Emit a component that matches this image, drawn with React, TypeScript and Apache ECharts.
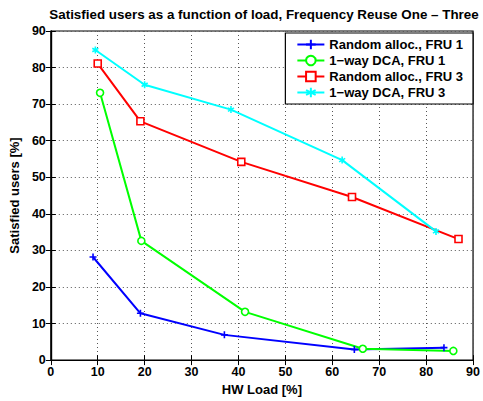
import React, { useEffect, useRef } from "react";
import * as echarts from "echarts";

const xTicks = [0, 10, 20, 30, 40, 50, 60, 70, 80, 90];
const yTicks = [0, 10, 20, 30, 40, 50, 60, 70, 80, 90];

const loadRandom1 = [9.0, 19.1, 37.0, 64.7, 83.8];
const satRandom1 = [28.2, 12.8, 6.9, 2.9, 3.4];
const loadDca1 = [10.5, 19.3, 41.4, 66.5, 85.8];
const satDca1 = [73.1, 32.6, 13.2, 3.1, 2.5];
const loadRandom3 = [10.0, 19.1, 40.6, 64.2, 86.9];
const satRandom3 = [81.1, 65.3, 54.2, 44.6, 33.1];
const loadDca3 = [9.5, 20.0, 38.4, 62.1, 82.1];
const satDca3 = [84.8, 75.3, 68.5, 54.7, 35.2];

const seriesNames = [
  "Random alloc., FRU 1",
  "1\u2212way DCA, FRU 1",
  "Random alloc., FRU 3",
  "1\u2212way DCA, FRU 3",
];

const FONT = "'Liberation Sans', Arial, Helvetica, sans-serif";

const PLUS = "path://M0,-1L0,1M-1,0L1,0";
const STAR = "path://M0,-1L0,1M-0.87,-0.5L0.87,0.5M-0.87,0.5L0.87,-0.5";

export default function App() {
  const ref = useRef<HTMLDivElement>(null);
  useEffect(() => {
    if (!ref.current) return;
    const chart = echarts.init(ref.current, null, { renderer: "svg" });
    const zip = (xs: number[], ys: number[]) => xs.map((x, i) => [x, ys[i]]);
    const mk = (
      name: string,
      xs: number[],
      ys: number[],
      color: string,
      symbol: string,
      size: number,
      fill: string
    ) => ({
      name,
      type: "line",
      data: zip(xs, ys),
      symbol,
      symbolSize: size,
      symbolKeepAspect: true,
      showAllSymbol: true,
      lineStyle: { color, width: 2 },
      itemStyle: { color: fill, borderColor: color, borderWidth: 1.6 },
      emphasis: { disabled: true },
    });
    const axisLabel = { color: "#000", fontFamily: FONT, fontWeight: "bold", fontSize: 12.5 };
    chart.setOption({
      animation: false,
      backgroundColor: "#fff",
      title: {
        text: "Satisfied users as a function of load, Frequency Reuse One \u2013 Three",
        left: 259,
        textAlign: "center",
        top: 3,
        textStyle: { color: "#000", fontFamily: FONT, fontWeight: "bold", fontSize: 13.4 },
      },
      grid: { left: 46.7, right: 9, top: 31, bottom: 33, show: true, borderColor: "#000", borderWidth: 1.2 },
      legend: {
        orient: "vertical",
        right: 10,
        top: 33,
        backgroundColor: "#fff",
        borderColor: "#000",
        borderWidth: 1.2,
        padding: [5, 10, 5, 11],
        itemGap: 3,
        itemWidth: 27,
        itemHeight: 12,
        textStyle: { color: "#000", fontFamily: FONT, fontWeight: "bold", fontSize: 13 },
        data: seriesNames,
      },
      xAxis: [
        {
          type: "value",
          min: 0,
          max: 90,
          interval: 10,
          name: "HW Load [%]",
          nameLocation: "middle",
          nameGap: 18,
          nameTextStyle: { color: "#000", fontFamily: FONT, fontWeight: "bold", fontSize: 13 },
          axisLine: { show: true, lineStyle: { color: "#000", width: 1.2 } },
          axisTick: { show: true, inside: true, length: 5, lineStyle: { color: "#000" } },
          axisLabel: { ...axisLabel, margin: 5, formatter: (v: number) => (xTicks.includes(v) ? String(v) : "") },
          splitLine: { show: true, lineStyle: { color: "#555", type: [1, 3], width: 1 } },
        },
        {
          type: "value",
          position: "top",
          min: 0,
          max: 90,
          interval: 10,
          axisLine: { show: true, lineStyle: { color: "#000", width: 1.2 } },
          axisTick: { show: true, inside: true, length: 5, lineStyle: { color: "#000" } },
          axisLabel: { show: false },
          splitLine: { show: false },
        },
      ],
      yAxis: [
        {
          type: "value",
          min: 0,
          max: 90,
          interval: 10,
          name: "Satisfied users [%]",
          nameLocation: "middle",
          nameGap: 22,
          nameTextStyle: { color: "#000", fontFamily: FONT, fontWeight: "bold", fontSize: 13 },
          axisLine: { show: true, lineStyle: { color: "#000", width: 1.2 } },
          axisTick: { show: true, inside: true, length: 5, lineStyle: { color: "#000" } },
          axisLabel: { ...axisLabel, margin: 5, formatter: (v: number) => (yTicks.includes(v) ? String(v) : "") },
          splitLine: { show: true, lineStyle: { color: "#555", type: [1, 3], width: 1 } },
        },
        {
          type: "value",
          position: "right",
          min: 0,
          max: 90,
          interval: 10,
          axisLine: { show: true, lineStyle: { color: "#000", width: 1.2 } },
          axisTick: { show: true, inside: true, length: 5, lineStyle: { color: "#000" } },
          axisLabel: { show: false },
          splitLine: { show: false },
        },
      ],
      series: [
        mk(seriesNames[0], loadRandom1, satRandom1, "#0000ff", PLUS, 7, "#0000ff"),
        mk(seriesNames[1], loadDca1, satDca1, "#00ff00", "circle", 7, "#fff"),
        mk(seriesNames[2], loadRandom3, satRandom3, "#ff0000", "rect", 7, "#fff"),
        mk(seriesNames[3], loadDca3, satDca3, "#00ffff", STAR, 7, "#00ffff"),
      ],
    });
    return () => chart.dispose();
  }, []);
  return (
    <div
      ref={ref}
      style={{ position: "fixed", left: 0, top: 0, width: 483, height: 401 }}
    />
  );
}
